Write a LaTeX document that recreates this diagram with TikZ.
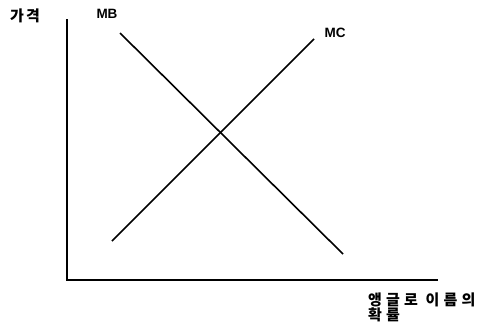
\documentclass[tikz,border=0pt]{standalone}
\usepackage{fontspec}
\setmainfont{Liberation Sans}
\newfontfamily\kr{Noto Sans CJK KR}[LetterSpace=15]
\newfontfamily\krwide{Noto Sans CJK KR}[LetterSpace=28]
\usetikzlibrary{positioning}

\begin{document}
\begin{tikzpicture}[
    x=1pt, y=-1pt,
    every node/.style={inner sep=0pt, font=\bfseries\fontsize{13.5}{15}\selectfont},
    krlabel/.style={font=\kr\bfseries\fontsize{15}{15}\selectfont},
    krwidelabel/.style={font=\krwide\bfseries\fontsize{15}{15.5}\selectfont},
    axis/.style={line width=2.6pt, line cap=rect},
    curve/.style={line width=1.6pt}
]
\useasboundingbox (0,0) rectangle (484,330);

% axes
\coordinate (origin) at (67,280);
\coordinate (ytop) at (67,20);
\coordinate (xend) at (437,280);
\draw [axis] (ytop) -- (origin) -- (xend);

% benefit and cost curves
\coordinate (mbstart) at (120,33);
\coordinate (mbend) at (343,254);
\coordinate (mcstart) at (112,241);
\coordinate (mcend) at (314,39);
\draw [curve] (mbstart) -- (mbend);
\draw [curve] (mcstart) -- (mcend);

\node (price) [krlabel] at (25,16) {가격};
\node (mb) at (107,13.5) {MB};
\node (mc) at (335,33) {MC};
\node (prob) [krwidelabel, align=left, anchor=west] at (368,307.5) {앵글로 이름의\\확률};

\end{tikzpicture}
\end{document}
